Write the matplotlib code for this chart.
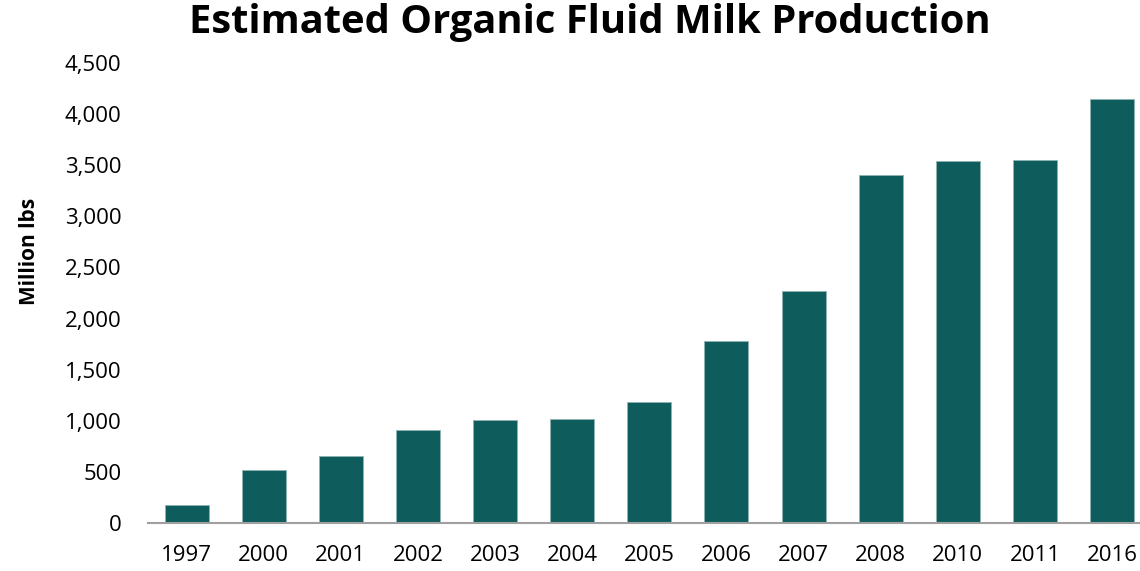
import matplotlib
matplotlib.use("Agg")
import matplotlib.pyplot as plt
from matplotlib.ticker import FuncFormatter

# Estimated organic fluid milk production, million lbs
years = ["1997", "2000", "2001", "2002", "2003", "2004", "2005",
         "2006", "2007", "2008", "2010", "2011", "2016"]
production = [173, 515, 658, 913, 1011, 1015, 1183,
              1778, 2266, 3404, 3545, 3548, 4145]
y_ticks = [0, 500, 1000, 1500, 2000, 2500, 3000, 3500, 4000, 4500]

bar_color = "#0E5C5C"
font = "Open Sans"

fig = plt.figure(figsize=(11.40, 5.71), dpi=100)
ax = fig.add_axes([0.1298, 0.0841, 0.8795, 0.8056])

x = list(range(len(years)))
ax.bar(x, production, width=0.57, color=bar_color,
       edgecolor="#8FB3B3", linewidth=0.6, zorder=2)

ax.set_xlim(-0.5, len(years) - 0.5)
ax.set_ylim(0, 4500)
ax.set_yticks(y_ticks)
ax.yaxis.set_major_formatter(FuncFormatter(lambda v, _: f"{int(v):,}"))
ax.set_xticks(x)
ax.set_xticklabels(years)

for s in ["top", "right", "left"]:
    ax.spines[s].set_visible(False)
ax.spines["bottom"].set_color("#A0A0A0")
ax.spines["bottom"].set_linewidth(1.5)

ax.tick_params(axis="both", length=0, labelsize=16, colors="black")
ax.tick_params(axis="y", pad=19)
ax.tick_params(axis="x", pad=16)
for lbl in ax.get_xticklabels() + ax.get_yticklabels():
    lbl.set_fontfamily(font)

ax.set_ylabel("Million lbs", fontsize=15, fontweight="bold", fontfamily=font)
ax.yaxis.set_label_coords(-0.108, 0.59)

fig.text(0.517, 0.960, "Estimated Organic Fluid Milk Production",
         ha="center", va="center", fontsize=28.7, fontweight="bold",
         fontfamily=font)

fig.savefig("out.png", dpi=100)
